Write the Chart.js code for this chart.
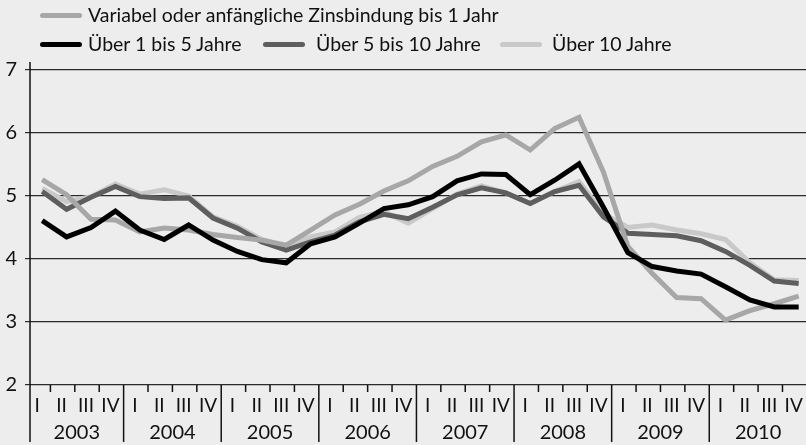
<!DOCTYPE html>
<html>
<head>
<meta charset="utf-8">
<script src="https://cdn.jsdelivr.net/npm/chart.js@4.4.0/dist/chart.umd.min.js"></script>
<style>
  html, body { margin: 0; padding: 0; background: #ecedec; }
  #wrap { position: relative; width: 806px; height: 445px; font-family: Lato, sans-serif; color: #111; }
  #chart { position: absolute; left: 0; top: 0; }
  .leg { position: absolute; font-size: 19.5px; line-height: 22px; white-space: nowrap; }
  .leg i { position: absolute; width: 42px; height: 5px; border-radius: 3px; top: 9px; }
</style>
</head>
<body>
<div id="wrap">
  <canvas id="chart" width="806" height="445"></canvas>
</div>
<script>
// Quarterly data 2003 Q1 - 2010 Q4
const quarters = ['I', 'II', 'III', 'IV'];
const years = ['2003', '2004', '2005', '2006', '2007', '2008', '2009', '2010'];
const yTicks = [2, 3, 4, 5, 6, 7];

const seriesNames = [
    'Variabel oder anfängliche Zinsbindung bis 1 Jahr',
    'Über 1 bis 5 Jahre',
    'Über 5 bis 10 Jahre',
    'Über 10 Jahre'
];
const variabel = [5.26, 5.02, 4.63, 4.62, 4.43, 4.49, 4.46, 4.39, 4.34, 4.30, 4.22, 4.46, 4.70, 4.87, 5.08, 5.24,
                  5.47, 5.63, 5.86, 5.97, 5.73, 6.07, 6.25, 5.38, 4.20, 3.77, 3.39, 3.37, 3.03, 3.18, 3.29, 3.41];
const ueber1bis5 = [4.61, 4.35, 4.50, 4.76, 4.46, 4.31, 4.54, 4.30, 4.12, 3.99, 3.94, 4.24, 4.35, 4.57, 4.80, 4.86,
                    4.99, 5.24, 5.35, 5.34, 5.02, 5.25, 5.51, 4.82, 4.10, 3.88, 3.81, 3.76, 3.56, 3.35, 3.24, 3.24];
const ueber5bis10 = [5.07, 4.79, 4.98, 5.15, 4.99, 4.96, 4.97, 4.65, 4.49, 4.27, 4.14, 4.27, 4.38, 4.59, 4.71, 4.64,
                     4.82, 5.02, 5.13, 5.05, 4.88, 5.07, 5.17, 4.67, 4.41, 4.39, 4.37, 4.29, 4.12, 3.90, 3.65, 3.61];
const ueber10 = [5.12, 4.91, 4.99, 5.19, 5.03, 5.10, 5.00, 4.67, 4.52, 4.31, 4.20, 4.35, 4.43, 4.66, 4.75, 4.57,
                 4.80, 5.03, 5.16, 5.05, 4.88, 5.07, 5.23, 4.72, 4.50, 4.54, 4.46, 4.40, 4.31, 3.94, 3.67, 3.66];

const colors = ['#a7a7a7', '#000000', '#5e5e5e', '#c9c9c9'];
const allSeries = [variabel, ueber1bis5, ueber5bis10, ueber10];
const drawOrder = [1, 0, 2, 3]; // black on top, light grey at the bottom

// Legend (HTML), positions: [sample left, text left, row center y]
const legendPos = [[40, 88, 15], [40, 88, 44], [263, 316, 44], [500, 552, 44]];
const wrap = document.getElementById('wrap');
seriesNames.forEach((name, k) => {
    const p = legendPos[k];
    const sample = document.createElement('div');
    sample.className = 'leg';
    sample.style.left = p[0] + 'px';
    sample.style.top = (p[2] - 11) + 'px';
    sample.innerHTML = '<i style="background:' + colors[k] + '"></i>';
    wrap.appendChild(sample);
    const txt = document.createElement('div');
    txt.className = 'leg';
    txt.style.left = p[1] + 'px';
    txt.style.top = (p[2] - 11) + 'px';
    txt.textContent = name;
    wrap.appendChild(txt);
});

// Two-level quarter / year axis drawn under the plot
const quarterAxis = {
    id: 'quarterAxis',
    afterDraw(chart) {
        const ctx = chart.ctx;
        const x = chart.scales.x;
        const area = chart.chartArea;
        const bottom = area.bottom;
        const shift = -4;
        ctx.save();
        ctx.strokeStyle = '#111';
        ctx.lineWidth = 1.5;
        // y axis line, running down into the year row
        ctx.beginPath();
        ctx.moveTo(area.left, area.top - 8);
        ctx.lineTo(area.left, 442);
        ctx.stroke();

        const n = years.length * quarters.length;
        const sep = j => x.getPixelForValue(j + 0.5) + shift;
        for (let j = 0; j < n; j++) {
            const bx = sep(j);
            ctx.beginPath();
            if ((j + 1) % 4 === 0) {
                ctx.moveTo(bx, bottom);
                ctx.lineTo(bx, 442);
            } else {
                ctx.moveTo(bx, bottom);
                ctx.lineTo(bx, bottom + 7);
            }
            ctx.stroke();
        }

        ctx.fillStyle = '#111';
        ctx.textAlign = 'center';
        ctx.textBaseline = 'middle';
        ctx.font = '19px Lato';
        for (let j = 0; j < n; j++) {
            ctx.fillText(quarters[j % 4], x.getPixelForValue(j) - 5, bottom + 21);
        }
        ctx.font = '20px Lato';
        years.forEach((yr, k) => {
            const left = k === 0 ? area.left : sep(k * 4 - 1);
            const right = sep(k * 4 + 3);
            ctx.fillText(yr, (left + right) / 2, 433);
        });
        ctx.restore();
    }
};

new Chart(document.getElementById('chart'), {
    type: 'line',
    data: {
        datasets: allSeries.map((vals, k) => ({
            label: seriesNames[k],
            data: vals.map((v, i) => ({ x: i, y: v })),
            borderColor: colors[k],
            borderWidth: 5,
            pointRadius: 0,
            tension: 0,
            fill: false,
            order: drawOrder[k]
        }))
    },
    options: {
        responsive: false,
        animation: false,
        layout: { padding: { top: 70, bottom: 60, left: 0, right: 0 } },
        plugins: { legend: { display: false }, tooltip: { enabled: false } },
        scales: {
            x: {
                type: 'linear',
                min: -0.5,
                max: 31.3,
                display: false
            },
            y: {
                min: yTicks[0],
                max: yTicks[yTicks.length - 1],
                afterFit: s => { s.width = 30; },
                afterBuildTicks: s => { s.ticks = yTicks.map(v => ({ value: v })); },
                ticks: { color: '#111', font: { family: 'Lato', size: 20 }, padding: 8 },
                grid: { color: '#2a2a2a', lineWidth: 1.2, tickLength: 5, drawTicks: true },
                border: { display: false }
            }
        }
    },
    plugins: [quarterAxis]
});
</script>
</body>
</html>
